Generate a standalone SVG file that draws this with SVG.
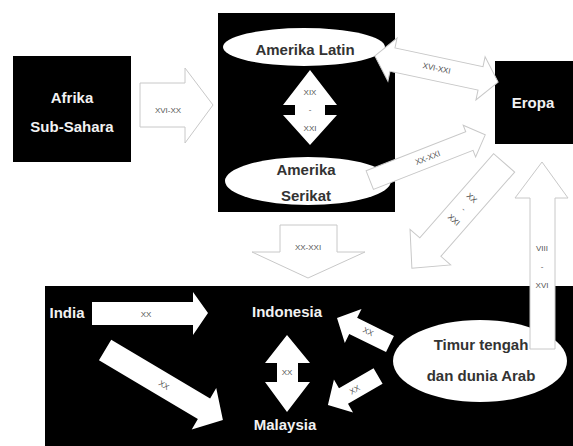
<svg xmlns="http://www.w3.org/2000/svg" width="573" height="446" viewBox="0 0 573 446">
<style>
.box{fill:#000}
.oval{fill:#fff}
.wt{fill:#f2f2f2;font-family:"Liberation Sans",Arial,sans-serif;font-weight:bold;font-size:15px;text-anchor:middle}
.dt{fill:#333;font-family:"Liberation Sans",Arial,sans-serif;font-weight:bold;font-size:15px;text-anchor:middle}
.la{fill:#fff;stroke:#c8c8c8;stroke-width:1}
.da{fill:#fff;stroke:none}
.lbl{fill:#555;font-family:"Liberation Sans",Arial,sans-serif;font-size:8px;text-anchor:middle}
</style>
<rect x="0" y="0" width="573" height="446" fill="#fff"/>
<g id="afrika">
<rect class="box" x="13" y="56" width="118" height="106"/>
<text class="wt" x="72" y="103">Afrika</text>
<text class="wt" x="72" y="132">Sub-Sahara</text>
</g>
<g id="amerika">
<rect class="box" x="218" y="13" width="177" height="199"/>
</g>
<g id="amerika-latin">
<ellipse class="oval" cx="304" cy="47" rx="81" ry="19"/>
<text class="dt" x="305" y="55">Amerika Latin</text>
</g>
<g id="amerika-serikat">
<ellipse class="oval" cx="308" cy="181" rx="83" ry="24"/>
<text class="dt" x="306" y="175">Amerika</text>
<text class="dt" x="306" y="201">Serikat</text>
</g>
<g id="eropa">
<rect class="box" x="495" y="61" width="78" height="83"/>
<text class="wt" x="533" y="108">Eropa</text>
</g>
<g id="asia">
<rect class="box" x="45" y="286" width="528" height="160"/>
</g>
<g id="india">
<text class="wt" x="67" y="318">India</text>
</g>
<g id="indonesia">
<text class="wt" x="287" y="317">Indonesia</text>
</g>
<g id="malaysia">
<text class="wt" x="285" y="430">Malaysia</text>
</g>
<g id="timur-tengah">
<ellipse class="oval" cx="480" cy="361" rx="87" ry="41"/>
<text class="dt" x="481" y="350">Timur tengah</text>
<text class="dt" x="481" y="381">dan dunia Arab</text>
</g>
<g id="connectors">
<path class="la" d="M140,83 H185 V68 L213,105 L185,143 V127 H140 Z"/>
<text class="lbl" x="168" y="113">XVI-XX</text>
<path class="da" d="M310,70 L337,105 H325 V115 H337 L310,145 L283,115 H295 V105 H283 Z"/>
<text class="lbl" x="310" y="95">XIX</text>
<text class="lbl" x="310" y="112">-</text>
<text class="lbl" x="310" y="131">XXI</text>
<g transform="translate(436.5,69) rotate(12)">
<path class="la" d="M-63,0 L-45,-22 V-12 H45 V-22 L63,0 L45,22 V12 H-45 V22 Z"/>
<text class="lbl" x="0" y="2">XVI-XXI</text>
</g>
<g transform="translate(427.5,157.5) rotate(-21.4)">
<path class="la" d="M-62,-10 H45 V-17 L62,0 L45,17 V10 H-62 Z"/>
<text class="lbl" x="0" y="3">XX-XXI</text>
</g>
<path class="la" d="M280,225 H337 V252 H365 L308,278 L252,252 H280 Z"/>
<text class="lbl" x="308" y="250">XX-XXI</text>
<g transform="translate(458,215.5) rotate(131.2)">
<path class="la" d="M-70,-14 H42 V-27 L70,0 L42,27 V14 H-70 Z"/>
</g>
<text class="lbl" transform="translate(470,200) rotate(41.2)">XX</text>
<text class="lbl" transform="translate(462,211) rotate(41.2)">-</text>
<text class="lbl" transform="translate(452,222) rotate(41.2)">XXI</text>
<path class="la" d="M530,349 V198 H515 L542,162 L568,198 H555 V349 Z"/>
<text class="lbl" x="542" y="251">VIII</text>
<text class="lbl" x="542" y="269">-</text>
<text class="lbl" x="542" y="288">XVI</text>
<path class="da" d="M92,302 H193 V292 L208,313 L193,335 V325 H92 Z"/>
<text class="lbl" x="146" y="317">XX</text>
<g transform="translate(164,385) rotate(30.7)">
<path class="da" d="M-68.5,-12 H46.5 V-24 L68.5,0 L46.5,24 V12 H-68.5 Z"/>
<text class="lbl" x="0" y="3">XX</text>
</g>
<path class="da" d="M287,335 L310,363 H298 V382 H310 L287,412 L265,382 H277 V363 H265 Z"/>
<text class="lbl" x="287" y="375">XX</text>
<g transform="translate(363.5,331) rotate(206.1)">
<path class="da" d="M-29.5,-9 H11.5 V-19 L29.5,0 L11.5,19 V9 H-29.5 Z"/>
</g>
<text class="lbl" transform="translate(367,334) rotate(26.1)">XX</text>
<g transform="translate(353,390.5) rotate(149.9)">
<path class="da" d="M-29,-9 H11 V-19 L29,0 L11,19 V9 H-29 Z"/>
</g>
<text class="lbl" transform="translate(356,392) rotate(-30.1)">XX</text>
</g>
</svg>
